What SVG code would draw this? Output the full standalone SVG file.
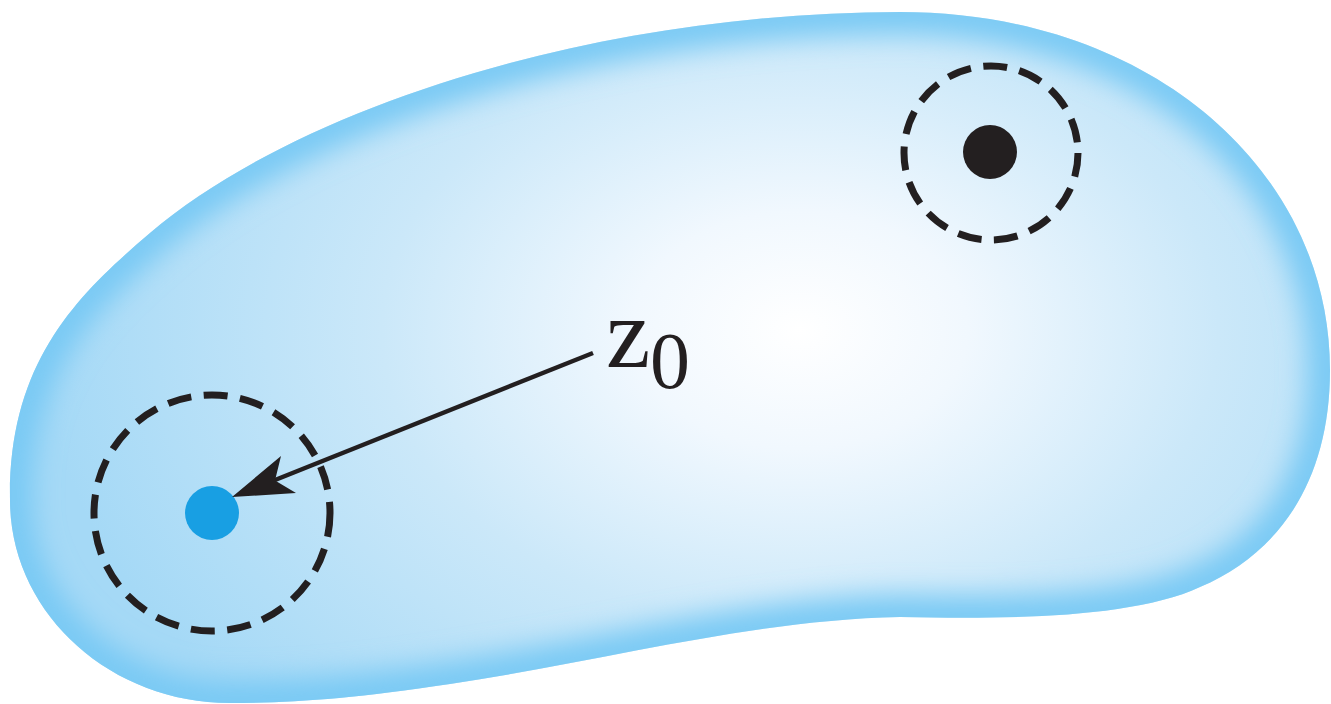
<svg xmlns="http://www.w3.org/2000/svg" width="1331" height="704" viewBox="0 0 1331 704">
<style>
.dash{fill:none;stroke:#231f20;stroke-width:7;stroke-dasharray:24 12.5}
.lbl{font-family:"Liberation Serif","Times New Roman",serif;fill:#231f20}
</style>
<defs>
<path id="blob" d="M 10,500 C 8,360 80,293 150,233 C 300,105.5 600,12 900,12 C 1150,12 1330,170 1330,370 C 1330,480 1280,553 1200,587 C 1130,620 990,619 900,617 C 750,620 600,662 450,684 C 350,699 290,703 230,703 C 109,703 10,612 10,500 Z"/>
<radialGradient id="g" gradientUnits="userSpaceOnUse" cx="800" cy="330" r="1" gradientTransform="translate(800 330) scale(760 540) translate(-800 -330)">
<stop offset="0" stop-color="#ffffff"/>
<stop offset="0.22" stop-color="#f1f8fe"/>
<stop offset="0.55" stop-color="#cbe8f9"/>
<stop offset="1" stop-color="#a5d9f6"/>
</radialGradient>
<clipPath id="clip"><use href="#blob"/></clipPath>
<filter id="blur" x="-10%" y="-10%" width="120%" height="120%"><feGaussianBlur stdDeviation="14"/></filter>
</defs>
<rect width="1331" height="704" fill="#ffffff"/>
<g id="region">
<use href="#blob" fill="url(#g)"/>
<g clip-path="url(#clip)">
<use href="#blob" fill="none" stroke="#78c9f4" stroke-width="44" filter="url(#blur)"/>
</g>
</g>
<g id="z0-point">
<circle class="dash" cx="212" cy="513" r="118"/>
<circle cx="212" cy="513" r="27" fill="#189fe3"/>
</g>
<g id="singular-point">
<circle class="dash" cx="991" cy="153" r="87"/>
<circle cx="990" cy="152" r="27" fill="#231f20"/>
</g>
<g id="connectors">
<line x1="593" y1="353" x2="270" y2="482" stroke="#231f20" stroke-width="4.5"/>
<polygon points="232,497 281,456 275,480.5 296,493" fill="#231f20"/>
</g>
<g id="label">
<text class="lbl" x="606" y="367" font-size="100">z</text>
<text class="lbl" x="650" y="388" font-size="80">0</text>
</g>
</svg>
